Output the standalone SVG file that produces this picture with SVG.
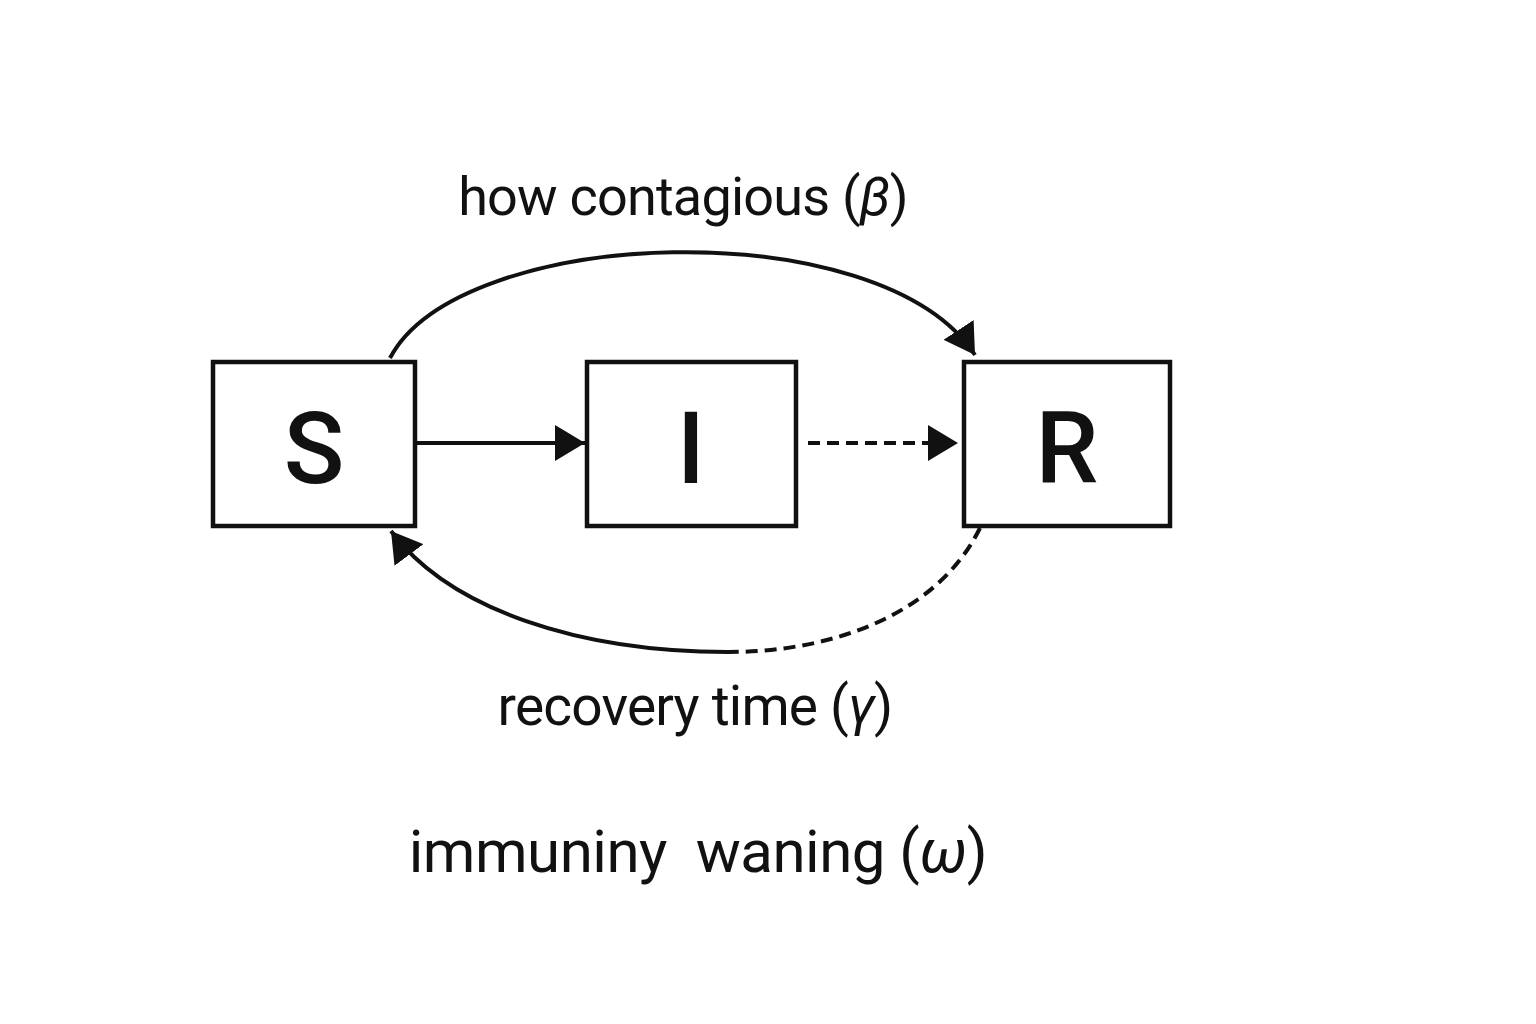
<svg xmlns="http://www.w3.org/2000/svg" width="1536" height="1024" viewBox="0 0 1536 1024">
<style>
.box{fill:#fff;stroke:#111;stroke-width:4.5}
.lbl{font-family:Roboto,"Liberation Sans",sans-serif;fill:#111}
.big{font-size:100px;font-weight:500}
.edge{fill:none;stroke:#111;stroke-width:4}
.dash{stroke-dasharray:12 7}
.gk{font-style:italic}
</style>
<defs>
<marker id="ah" markerUnits="userSpaceOnUse" markerWidth="32" markerHeight="36" refX="30" refY="18" orient="auto">
<path d="M0,0 L30,18 L0,36 Z" fill="#111"/>
</marker>
</defs>
<rect width="1536" height="1024" fill="#fff"/>
<g id="connectors">
<path class="edge" d="M390,358 C460,225 880,210 975,355" marker-end="url(#ah)"/>
<line class="edge" x1="416" y1="443" x2="585" y2="443" marker-end="url(#ah)"/>
<line class="edge dash" x1="808" y1="443" x2="958" y2="443" stroke-width="5" marker-end="url(#ah)"/>
<path class="edge dash" d="M980,528 C940,610 840,652 728,652"/>
<path class="edge" d="M728,652 C580,652 450,610 391,531" marker-end="url(#ah)"/>
</g>
<g id="node-S">
<rect class="box" x="213" y="362" width="202" height="164"/>
<text class="lbl big" x="314" y="483" text-anchor="middle">S</text>
</g>
<g id="node-I">
<rect class="box" x="587" y="362" width="209" height="164"/>
<text class="lbl big" x="691" y="483" text-anchor="middle">I</text>
</g>
<g id="node-R">
<rect class="box" x="964" y="362" width="206" height="164"/>
<text class="lbl big" x="1067" y="483" text-anchor="middle">R</text>
</g>
<g id="labels">
<text class="lbl" x="683" y="215" font-size="54" text-anchor="middle" letter-spacing="-0.8">how contagious (<tspan class="gk">β</tspan>)</text>
<text class="lbl" x="695" y="725" font-size="55" text-anchor="middle" letter-spacing="-0.8">recovery time (<tspan class="gk">γ</tspan>)</text>
<text class="lbl" x="698" y="872" font-size="60" text-anchor="middle" letter-spacing="-0.5" xml:space="preserve">immuniny  waning (<tspan class="gk">ω</tspan>)</text>
</g>
</svg>
